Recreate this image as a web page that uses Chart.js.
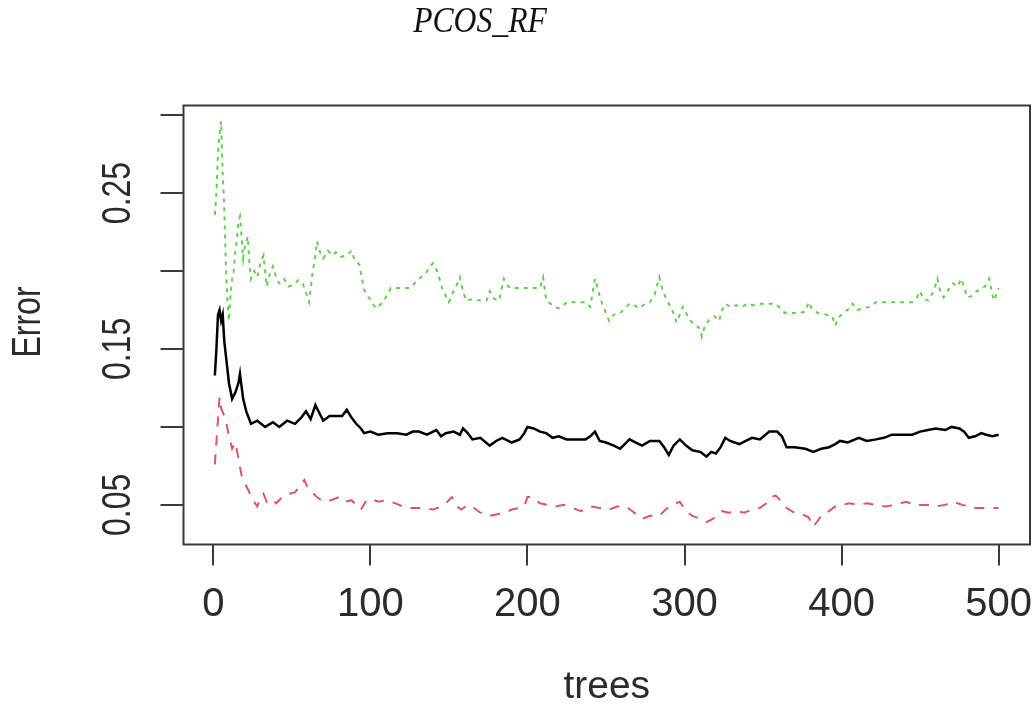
<!DOCTYPE html>
<html>
<head>
<meta charset="utf-8">
<script src="https://cdn.jsdelivr.net/npm/chart.js@4.4.1/dist/chart.umd.min.js"></script>
<style>
  html, body { margin: 0; padding: 0; background: #ffffff; }
  #wrap { width: 1033px; height: 707px; position: relative; }
</style>
</head>
<body>
<div id="wrap"><canvas id="c" width="1033" height="707"></canvas></div>
<script>
// Random forest error rates against the number of trees
const chartTitle = 'PCOS_RF';
const xAxisTitle = 'trees';
const yAxisTitle = 'Error';

// OOB error (solid black)
const treesOOB = [1,2,3,4,5,6,7,8,10,12,14,16,17,19,21,24,28,33,38,42,47,52,56,59,62,65,68,70,74,78,82,85,88,91,94,96,100,105,111,117,123,127,131,136,142,145,148,153,157,159,162,165,170,176,180,184,190,195,198,200,204,208,212,216,220,225,231,237,240,243,246,250,255,259,262,265,269,273,278,284,287,290,293,297,301,305,310,314,317,320,323,326,329,332,335,339,343,348,354,359,362,365,370,377,382,387,392,396,399,404,411,416,422,427,432,438,445,450,455,460,466,470,475,478,481,485,489,492,496,500];
const errOOB = [0.133,0.150,0.172,0.175,0.168,0.172,0.155,0.146,0.128,0.118,0.122,0.128,0.134,0.118,0.110,0.102,0.104,0.100,0.103,0.100,0.104,0.102,0.106,0.110,0.105,0.114,0.108,0.104,0.107,0.107,0.107,0.111,0.106,0.102,0.099,0.096,0.097,0.095,0.096,0.096,0.095,0.097,0.097,0.095,0.098,0.094,0.096,0.097,0.095,0.099,0.096,0.092,0.093,0.088,0.091,0.093,0.090,0.092,0.096,0.100,0.099,0.097,0.096,0.093,0.094,0.092,0.092,0.092,0.094,0.097,0.091,0.090,0.088,0.086,0.089,0.092,0.090,0.088,0.091,0.091,0.087,0.082,0.088,0.092,0.088,0.085,0.084,0.081,0.084,0.083,0.087,0.093,0.091,0.090,0.089,0.091,0.093,0.092,0.097,0.097,0.094,0.087,0.087,0.086,0.084,0.086,0.087,0.089,0.091,0.090,0.093,0.091,0.092,0.093,0.095,0.095,0.095,0.097,0.098,0.099,0.098,0.100,0.099,0.097,0.093,0.094,0.096,0.095,0.094,0.095];

// Class 0 error (dashed red)
const treesC0 = [1,3,4,5,7,8,10,12,14,16,18,20,22,24,26,28,30,32,34,37,40,44,48,52,55,58,60,63,66,70,75,80,84,88,91,94,97,100,105,110,116,123,132,140,145,149,152,155,158,162,166,170,176,181,186,190,195,198,200,203,208,213,218,223,229,234,240,246,252,257,263,268,273,278,284,288,292,297,301,305,310,314,318,324,328,333,338,343,348,352,355,358,361,365,370,375,379,382,385,388,392,396,400,405,410,416,422,428,434,441,447,454,460,466,471,477,484,490,494,500];
const errC0 = [0.076,0.105,0.119,0.112,0.107,0.104,0.094,0.086,0.090,0.080,0.069,0.064,0.060,0.056,0.052,0.049,0.054,0.057,0.052,0.054,0.051,0.055,0.057,0.058,0.062,0.066,0.061,0.058,0.055,0.052,0.053,0.055,0.052,0.053,0.050,0.047,0.052,0.054,0.052,0.053,0.051,0.048,0.048,0.047,0.049,0.052,0.055,0.049,0.047,0.050,0.048,0.045,0.043,0.044,0.045,0.047,0.048,0.049,0.055,0.055,0.051,0.050,0.049,0.050,0.048,0.046,0.049,0.048,0.047,0.049,0.049,0.045,0.041,0.043,0.043,0.047,0.050,0.052,0.046,0.043,0.041,0.039,0.041,0.046,0.045,0.046,0.045,0.047,0.048,0.051,0.055,0.056,0.053,0.048,0.045,0.044,0.042,0.036,0.040,0.044,0.046,0.049,0.050,0.051,0.050,0.051,0.050,0.049,0.050,0.052,0.050,0.050,0.049,0.050,0.052,0.050,0.048,0.048,0.048,0.048];

// Class 1 error (dotted green)
const treesC1 = [1,2,3,4,5,6,7,8,9,10,11,12,13,14,15,16,17,18,19,20,22,23,24,26,28,30,32,34,36,38,40,42,45,48,51,54,57,59,61,63,65,66,68,70,73,76,78,81,85,88,90,93,96,99,102,104,106,108,111,113,118,125,128,131,135,138,140,142,144,146,148,150,153,155,157,159,161,165,170,174,176,179,182,185,187,189,195,200,205,208,210,212,216,220,223,225,231,237,240,243,246,248,250,252,255,259,262,265,268,271,275,278,281,284,286,288,291,293,295,297,299,301,303,306,310,311,313,316,319,322,324,326,329,333,337,340,344,349,354,358,361,364,368,373,377,379,381,385,390,394,396,398,401,405,407,410,414,418,422,428,434,440,445,448,450,452,455,457,459,461,463,465,468,471,474,476,478,480,483,486,489,492,494,496,497,499,500];
const errC1 = [0.236,0.250,0.275,0.288,0.296,0.262,0.240,0.205,0.180,0.168,0.185,0.195,0.200,0.212,0.220,0.232,0.235,0.222,0.208,0.215,0.222,0.205,0.195,0.200,0.196,0.205,0.210,0.190,0.198,0.203,0.196,0.192,0.195,0.190,0.191,0.194,0.192,0.186,0.180,0.197,0.210,0.219,0.212,0.208,0.213,0.210,0.212,0.209,0.210,0.213,0.207,0.204,0.188,0.183,0.178,0.176,0.178,0.180,0.185,0.189,0.189,0.189,0.192,0.195,0.198,0.203,0.205,0.201,0.195,0.188,0.184,0.180,0.187,0.191,0.196,0.187,0.181,0.182,0.181,0.181,0.187,0.182,0.181,0.195,0.191,0.189,0.189,0.189,0.189,0.189,0.196,0.181,0.178,0.176,0.178,0.180,0.180,0.180,0.177,0.195,0.184,0.178,0.173,0.168,0.172,0.173,0.176,0.179,0.178,0.176,0.179,0.180,0.185,0.196,0.188,0.183,0.177,0.173,0.167,0.172,0.177,0.173,0.169,0.166,0.163,0.158,0.165,0.169,0.171,0.168,0.175,0.179,0.177,0.178,0.177,0.179,0.178,0.179,0.179,0.179,0.176,0.173,0.173,0.173,0.174,0.180,0.176,0.173,0.172,0.171,0.165,0.170,0.173,0.176,0.179,0.175,0.176,0.177,0.180,0.180,0.180,0.180,0.180,0.183,0.187,0.182,0.181,0.184,0.188,0.195,0.186,0.183,0.188,0.192,0.190,0.195,0.190,0.183,0.184,0.187,0.188,0.191,0.195,0.185,0.181,0.186,0.189];

// Axis ticks
const xTicks = [0, 100, 200, 300, 400, 500];
const yTicks = [0.05, 0.10, 0.15, 0.20, 0.25, 0.30];
const yLabelled = [0.05, 0.15, 0.25];

const toPoints = (xs, ys) => xs.map((t, i) => ({ x: t, y: ys[i] }));

const inkColor = '#2b2b2b';
const sansFamily = "'Liberation Sans', Arial, sans-serif";
const xTickFont = { family: sansFamily, size: 40, lineHeight: 1.2 };
const xTitleFont = { family: sansFamily, size: 39, lineHeight: 1 };

// Draws rotated text, condensed along its own length
function drawUpright(ctx, text, x, y, size, squeeze) {
  ctx.save();
  ctx.translate(x, y);
  ctx.rotate(-Math.PI / 2);
  ctx.scale(squeeze, 1);
  ctx.font = size + 'px ' + sansFamily;
  ctx.fillStyle = inkColor;
  ctx.textAlign = 'center';
  ctx.textBaseline = 'middle';
  ctx.fillText(text, 0, 0);
  ctx.restore();
}

// Full frame, y labels, y title and the italic main title
const framePlugin = {
  id: 'frame',
  afterDraw(chart) {
    const { ctx, chartArea: a } = chart;
    const ys = chart.scales.y;
    ctx.save();
    ctx.strokeStyle = '#3a3a3a';
    ctx.lineWidth = 2;
    ctx.strokeRect(a.left, a.top, a.right - a.left, a.bottom - a.top);
    ctx.restore();

    yLabelled.forEach(v => drawUpright(ctx, v.toFixed(2), 119, ys.getPixelForValue(v), 40, 0.8));
    drawUpright(ctx, yAxisTitle, 29, (a.top + a.bottom) / 2 - 3, 40, 0.8);

    ctx.save();
    ctx.translate(480, 23);
    ctx.scale(0.88, 1);
    ctx.fillStyle = '#111';
    ctx.font = "italic 36px 'Liberation Serif', 'Times New Roman', serif";
    ctx.textAlign = 'center';
    ctx.textBaseline = 'middle';
    ctx.fillText(chartTitle, 0, 0);
    ctx.restore();
  }
};

new Chart(document.getElementById('c'), {
  type: 'line',
  data: {
    datasets: [
      {
        label: 'OOB',
        data: toPoints(treesOOB, errOOB),
        borderColor: '#000000',
        borderWidth: 2.5,
        pointRadius: 0,
        tension: 0
      },
      {
        label: '0',
        data: toPoints(treesC0, errC0),
        borderColor: '#DF536B',
        borderWidth: 2,
        borderDash: [10, 9],
        pointRadius: 0,
        tension: 0
      },
      {
        label: '1',
        data: toPoints(treesC1, errC1),
        borderColor: '#61D04F',
        borderWidth: 2,
        borderDash: [4, 5],
        pointRadius: 0,
        tension: 0
      }
    ]
  },
  options: {
    responsive: false,
    animation: false,
    devicePixelRatio: 1,
    layout: { padding: { top: 105.5, right: 3, bottom: 0, left: 0 } },
    plugins: {
      legend: { display: false },
      tooltip: { enabled: false },
      title: { display: false }
    },
    scales: {
      x: {
        type: 'linear',
        position: 'bottom',
        min: -18.96,
        max: 519.96,
        afterBuildTicks: s => { s.ticks = xTicks.map(v => ({ value: v })); },
        afterFit: s => { s.height = 162.5; s.paddingLeft = 0; s.paddingRight = 0; },
        border: { display: false },
        grid: { drawOnChartArea: false, drawTicks: true, tickLength: 21, color: '#3a3a3a', lineWidth: 2 },
        ticks: { font: xTickFont, color: inkColor, padding: 15.5, maxRotation: 0, autoSkip: false,
                 callback: v => String(v) },
        title: { display: true, text: xAxisTitle, font: xTitleFont, color: inkColor, padding: { top: 0, bottom: 0 } }
      },
      y: {
        type: 'linear',
        min: 0.0246,
        max: 0.3061,
        afterBuildTicks: s => { s.ticks = yTicks.map(v => ({ value: v })); },
        afterFit: s => { s.width = 183.5; s.paddingTop = 0; s.paddingBottom = 0; },
        border: { display: false },
        grid: { drawOnChartArea: false, drawTicks: true, tickLength: 23, color: '#3a3a3a', lineWidth: 2 },
        ticks: { display: false },
        title: { display: false }
      }
    }
  },
  plugins: [framePlugin]
});
</script>
</body>
</html>
